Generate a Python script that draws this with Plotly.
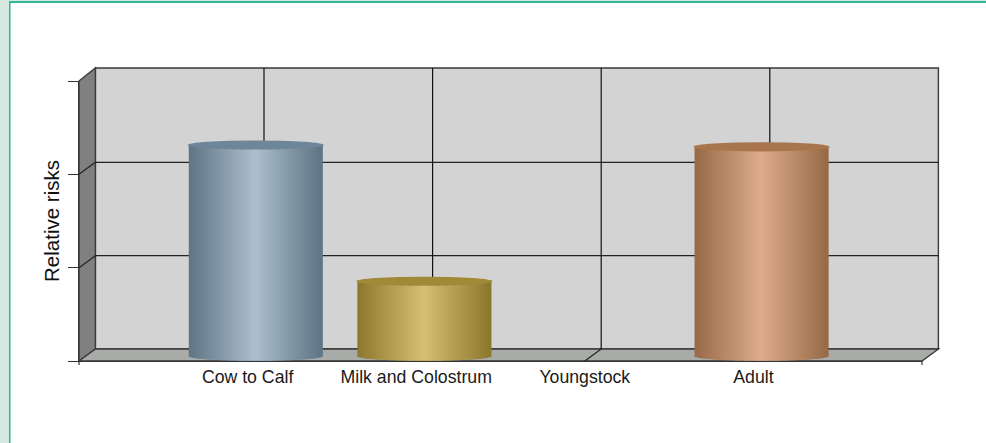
import plotly.graph_objects as go

# ---- data ----
categories = ["Cow to Calf", "Milk and Colostrum", "Youngstock", "Adult"]
relative_risks = [2.25, 0.79, 0.0, 2.23]
y_ticks = [0, 1, 2, 3]

# ---- style ----
W, H = 986, 443
edge_colors = ["#5f7484", "#8c782c", "#8c782c", "#976946"]
mid_colors = ["#abbfce", "#d6be72", "#d6be72", "#ddac8c"]
cap_colors = ["#6e8699", "#a18a37", "#a18a37", "#a9754f"]
FRONT_L, FRONT_R, FRONT_B, FRONT_T = 79, 922, 361, 81
DX, DY = 16.4, 12          # depth of the box in pixels
Y_PX_PER_UNIT = (FRONT_B - FRONT_T) / 3
X_PX_PER_UNIT = (FRONT_R - FRONT_L) / 5
BAR_W = 0.807
CAP_H = 4.6 / Y_PX_PER_UNIT
BASE_DROP = 1.2 / Y_PX_PER_UNIT
STRIPS = 68
DARK = "#333333"


def px(x):
    return x / W


def py(y):
    return 1 - y / H


def hexmix(a, b, t):
    ca = [int(a[i:i + 2], 16) for i in (1, 3, 5)]
    cb = [int(b[i:i + 2], 16) for i in (1, 3, 5)]
    return "rgb(%d,%d,%d)" % tuple(round(p + (q - p) * t) for p, q in zip(ca, cb))


def poly(points, fill, line=None, width=1.4):
    path = "M" + " L".join(f"{px(a):.5f},{py(b):.5f}" for a, b in points) + " Z"
    return dict(type="path", xref="paper", yref="paper", path=path, fillcolor=fill,
                line=dict(color=line or fill, width=width), layer="below")


def seg(x0, y0, x1, y1, color=DARK, width=1.2):
    return dict(type="line", xref="paper", yref="paper", x0=px(x0), y0=py(y0), x1=px(x1), y1=py(y1),
                line=dict(color=color, width=width), layer="below")


shapes = [
    # page frame
    dict(type="rect", xref="paper", yref="paper", x0=0, x1=px(9), y0=0, y1=1,
         fillcolor="#d5e8e0", line_width=0, layer="below"),
    dict(type="rect", xref="paper", yref="paper", x0=0, x1=1, y0=py(1), y1=1,
         fillcolor="#d5e8e0", line_width=0, layer="below"),
    dict(type="rect", xref="paper", yref="paper", x0=px(9), x1=px(10.5), y0=0, y1=py(1),
         fillcolor="#2fb796", line_width=0, layer="below"),
    dict(type="rect", xref="paper", yref="paper", x0=px(9), x1=1, y0=py(1), y1=py(3),
         fillcolor="#2fb796", line_width=0, layer="below"),
    # walls
    poly([(FRONT_L + DX, FRONT_T - DY - 1), (FRONT_R + DX, FRONT_T - DY - 1),
          (FRONT_R + DX, FRONT_B - DY), (FRONT_L + DX, FRONT_B - DY)], "#d3d3d3", "#3a3a3a"),
    poly([(FRONT_L, FRONT_T), (FRONT_L + DX, FRONT_T - DY - 1),
          (FRONT_L + DX, FRONT_B - DY), (FRONT_L, FRONT_B)], "#808080", "#3a3a3a"),
    poly([(FRONT_L, FRONT_B), (FRONT_L + DX, FRONT_B - DY),
          (FRONT_R + DX, FRONT_B - DY), (FRONT_R, FRONT_B)], "#a9aba9", "#3a3a3a"),
]
# back wall and side wall grid
for t in y_ticks[1:-1]:
    yy = FRONT_B - t * Y_PX_PER_UNIT
    shapes.append(seg(FRONT_L + DX, yy - DY, FRONT_R + DX, yy - DY, "#222222"))
    shapes.append(seg(FRONT_L, yy, FRONT_L + DX, yy - DY, "#222222"))
# verticals on back wall and diagonals on the floor
for i in range(1, len(categories) + 1):
    xx = FRONT_L + i * X_PX_PER_UNIT
    shapes.append(seg(xx + DX, FRONT_T - DY - 1, xx + DX, FRONT_B - DY, "#111111"))
    shapes.append(seg(xx, FRONT_B, xx + DX, FRONT_B - DY, "#222222"))
# short stubs at the axis ends
shapes.append(seg(FRONT_L, FRONT_B, FRONT_L, FRONT_B + 4))
shapes.append(seg(FRONT_R, FRONT_B, FRONT_R, FRONT_B + 4))

fig = go.Figure()

# invisible carrier for the front axes
positions = list(range(1, len(categories) + 1))
fig.add_trace(go.Scatter(x=positions, y=relative_risks, mode="none", showlegend=False,
                         hoverinfo="skip", xaxis="x", yaxis="y"))

# cylinders drawn from the values, on axes placed half way through the depth
STRIP_W = BAR_W / STRIPS * 1.6
for pos, val, ec, mc, cc in zip(positions, relative_risks, edge_colors, mid_colors, cap_colors):
    if val <= 0:
        continue
    xs, bases, heights, colors = [], [], [], []
    for k in range(STRIPS):
        u = (k + 0.5) / STRIPS * 2 - 1
        curve = CAP_H * (1 - u * u) ** 0.5 + BASE_DROP
        xs.append(pos + u * (BAR_W - STRIP_W) / 2)
        bases.append(-curve)
        heights.append(val + curve)
        colors.append(hexmix(mc, ec, abs(u)))
    fig.add_trace(go.Bar(x=xs, y=heights, base=bases, width=STRIP_W, opacity=1,
                         marker=dict(color=colors, opacity=1, line_width=0), showlegend=False,
                         hoverinfo="skip", xaxis="x2", yaxis="y2"))
    shapes.append(dict(type="circle", xref="x2", yref="y2", x0=pos - BAR_W / 2, x1=pos + BAR_W / 2,
                       y0=val - CAP_H, y1=val + CAP_H, fillcolor=cc, line_width=0, layer="above"))

Y2_LOW = -0.2
fig.update_layout(
    width=W, height=H, margin=dict(l=0, r=0, t=0, b=0),
    paper_bgcolor="white", plot_bgcolor="rgba(0,0,0,0)",
    barmode="overlay", showlegend=False, shapes=shapes,
    font=dict(family="Liberation Sans, Arial, sans-serif", color="#1a1a1a"),
    xaxis=dict(domain=[px(FRONT_L), px(FRONT_R)], range=[0, 5], anchor="y",
               tickvals=positions, ticktext=categories, ticks="", showgrid=False, zeroline=False,
               showline=True, linecolor=DARK, linewidth=1, ticklabelstandoff=0,
               tickfont=dict(size=17.7, color="#1a1a1a")),
    yaxis=dict(domain=[py(FRONT_B), py(FRONT_T)], range=[0, 3], anchor="x",
               tickvals=y_ticks, ticks="outside", ticklen=10, tickcolor=DARK, showticklabels=False,
               showgrid=False, zeroline=False, showline=True, linecolor=DARK, linewidth=1,
               title=dict(text="Relative risks", font=dict(size=20.5, color="#111111"), standoff=2)),
    xaxis2=dict(domain=[px(FRONT_L + DX / 2), px(FRONT_R + DX / 2)], range=[0, 5], anchor="y2",
                visible=False),
    yaxis2=dict(domain=[py(FRONT_B - DY / 2 - Y2_LOW * Y_PX_PER_UNIT), py(FRONT_T - DY / 2)],
                range=[Y2_LOW, 3], anchor="x2", visible=False),
)

fig.write_html("out.html", config={"displayModeBar": False},
               post_script="document.body.style.margin='0';document.body.style.overflow='hidden';")
